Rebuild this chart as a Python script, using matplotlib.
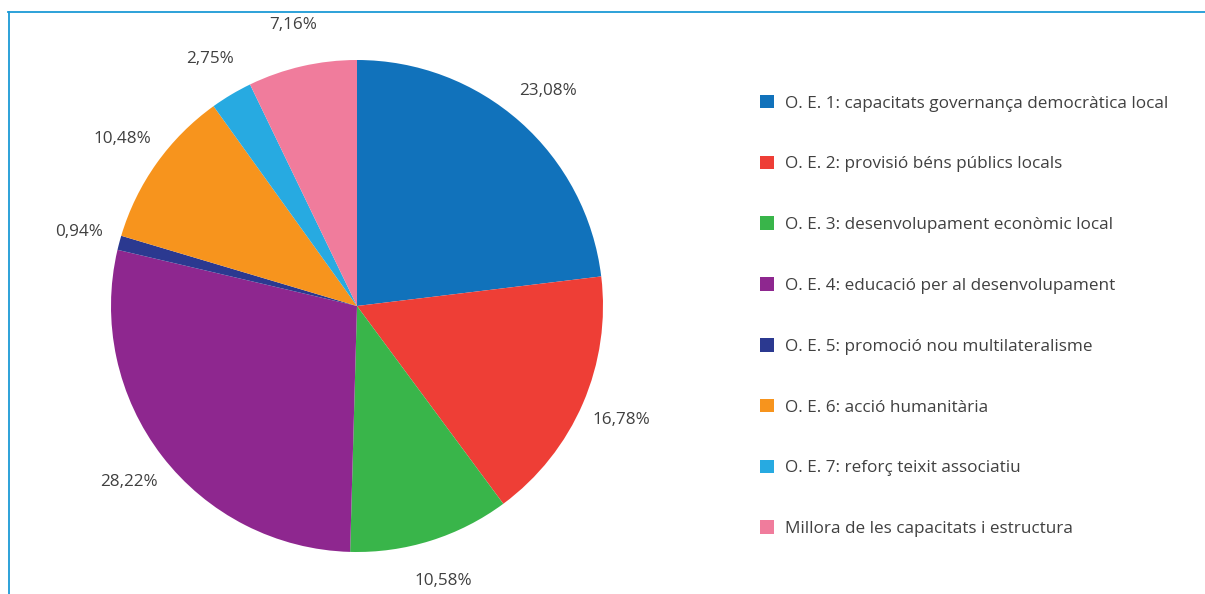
import matplotlib.pyplot as plt
import numpy as np
from matplotlib.patches import Patch
from matplotlib.lines import Line2D

categories = [
    "O. E. 1: capacitats governança democràtica local",
    "O. E. 2: provisió béns públics locals",
    "O. E. 3: desenvolupament econòmic local",
    "O. E. 4: educació per al desenvolupament",
    "O. E. 5: promoció nou multilateralisme",
    "O. E. 6: acció humanitària",
    "O. E. 7: reforç teixit associatiu",
    "Millora de les capacitats i estructura",
]
values = [23.08, 16.78, 10.58, 28.22, 0.94, 10.48, 2.75, 7.16]
colors = ["#1172bb", "#ee3e36", "#39b54a", "#8e278f", "#2b3990", "#f7941d", "#27aae1", "#f07c9c"]

plt.rcParams['font.family'] = ['Open Sans', 'DejaVu Sans']
text_color = "#404040"

fig = plt.figure(figsize=(12.05, 5.94), dpi=100)
W, H = 1205, 594

# pie axes: centre (357, 306) px, radius 246 px, limits +-1.25
cx, cy, r = 357, 306, 246
half = 1.25 * r
ax = fig.add_axes([(cx - half) / W, (H - cy - half) / H, 2 * half / W, 2 * half / H])
wedges, _ = ax.pie(values, colors=colors, startangle=90, counterclock=False,
                   radius=1, wedgeprops=dict(linewidth=0))
ax.set_xlim(-1.25, 1.25)
ax.set_ylim(-1.25, 1.25)
ax.set_aspect('equal')
ax.axis('off')

for w, v in zip(wedges, values):
    ang = np.deg2rad((w.theta1 + w.theta2) / 2)
    ax.text(1.17 * np.cos(ang), 1.17 * np.sin(ang), f"{v:.2f}%".replace('.', ','),
            ha='center', va='center', fontsize=12.3, color=text_color, clip_on=False)

handles = [Patch(facecolor=c, edgecolor='none') for c in colors]
fig.legend(handles, categories, loc='upper left', bbox_to_anchor=(753 / W, 1 - 88 / H),
           frameon=False, fontsize=12.3, labelcolor=text_color,
           handlelength=0.85, handleheight=0.85, handletextpad=0.6,
           labelspacing=2.58, borderaxespad=0)

# thin blue frame on top and left
frame_color = "#1b9ad6"
fig.add_artist(Line2D([8 / W, 1], [1 - 11.5 / H, 1 - 11.5 / H], color=frame_color, lw=1.3))
fig.add_artist(Line2D([8.5 / W, 8.5 / W], [0, 1 - 11.5 / H], color=frame_color, lw=1.3))

fig.savefig("out.png", dpi=100)
